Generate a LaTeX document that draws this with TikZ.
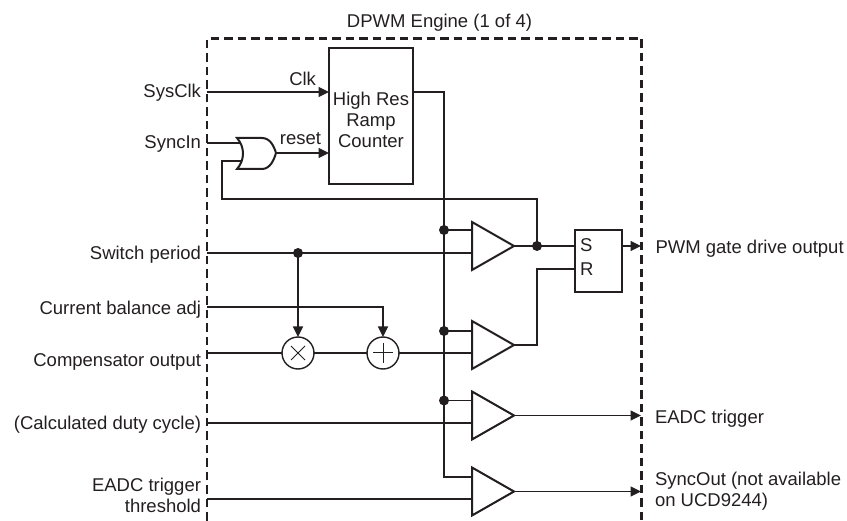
\documentclass[tikz,border=0pt]{standalone}
\usepackage{fontspec}
\setmainfont{Liberation Sans}
\usetikzlibrary{arrows.meta,shapes.geometric,shapes.misc}
\definecolor{ink}{HTML}{231F20}
\tikzset{
  wire/.style={draw=ink,line width=1.3pt},
  arrowwire/.style={wire,-{Triangle[length=10.5pt,width=10pt]}},
  blockbox/.style={draw=ink,line width=2.4pt,fill=white,inner sep=0pt,outer sep=0pt},
  comparator/.style={isosceles triangle,isosceles triangle stretches,shape border rotate=0,draw=ink,line width=2pt,fill=white,minimum width=48pt,minimum height=42pt,inner sep=0pt,outer sep=0pt,anchor=lower side},
  opcircle/.style={circle,draw=ink,line width=1.4pt,fill=white,minimum size=32pt,inner sep=0pt,outer sep=0pt},
  joint/.style={circle,fill=ink,minimum size=10pt,inner sep=0pt,outer sep=0pt},
  lbl/.style={text=ink,font=\fontsize{18.5}{21}\selectfont,inner sep=0pt,outer sep=0pt},
  leftlbl/.style={lbl,anchor=base east,align=right},
  rightlbl/.style={lbl,anchor=base west,align=left},
  boundary/.style={draw=ink,line width=2.4pt,dash pattern=on 8.5pt off 5pt}
}
\begin{document}
\begin{tikzpicture}[x=1pt,y=-1pt]
\useasboundingbox (0,0) rectangle (847,521);
\path[boundary] (207,521) -- (207,38.5) -- (641.5,38.5) -- (641.5,521);
% boundary terminals
\coordinate (pSysClk) at (207,92);
\coordinate (pSyncIn) at (207,143);
\coordinate (pSwitch) at (207,253);
\coordinate (pBal) at (207,307);
\coordinate (pComp) at (207,353);
\coordinate (pDuty) at (207,423);
\coordinate (pThr) at (207,499);
\coordinate (pPwm) at (641,246);
\coordinate (pEadc) at (641,415.5);
\coordinate (pSyncOut) at (641,491.5);
% blocks
\node[blockbox,minimum width=84pt,minimum height=136pt,align=center,anchor=north west] (ramp) at (329,48) {};
\node[lbl,align=center] (ramptext) at (371,120) {High Res\\Ramp\\Counter};
\node[blockbox,minimum width=47pt,minimum height=62pt,anchor=north west] (sr) at (575,230) {};
\node[lbl,anchor=base west] (srS) at (580,252) {S};
\node[lbl,anchor=base west] (srR) at (580,276) {R};
\node[comparator] (c1) at (472,246) {};
\node[comparator] (c2) at (472,345) {};
\node[comparator] (c3) at (472,415.5) {};
\node[comparator] (c4) at (472,491.5) {};
\node[opcircle] (mul) at (298,353) {};
\node[opcircle] (add) at (383,353) {};
\draw[ink,line width=1pt] (291,346) -- (305,360) (305,346) -- (291,360);
\draw[ink,line width=1pt] (373,353) -- (393,353) (383,343) -- (383,363);
% OR gate
\coordinate (orA) at (240,143);
\coordinate (orB) at (241,161);
\coordinate (orOut) at (276,153);
\draw[ink,line width=2pt,fill=white] (237,138) -- (262,138) .. controls (270,138) and (274,146) .. (276,153) .. controls (274,160) and (270,169) .. (262,169) -- (237,169) .. controls (245,160) and (245,147) .. (237,138) -- cycle;
% junction coordinates
\coordinate (busTop) at (444,92);
\coordinate (j1) at (444,230);
\coordinate (j2) at (444,331);
\coordinate (j3) at (444,400.5);
\coordinate (j4) at (444,477);
\coordinate (jSw) at (298,253);
\coordinate (jFb) at (537,246);
\coordinate (fbA) at (222,161);
\coordinate (fbB) at (222,199);
\coordinate (fbC) at (537,199);
\coordinate (rA) at (537,345);
\coordinate (rB) at (537,269);
\coordinate (balTurn) at (383,307);
% connectors
\draw[arrowwire] (pSysClk) -- (pSysClk -| ramp.west);
\draw[wire] (pSyncIn) -- (orA);
\draw[arrowwire] (orOut) -- (orOut -| ramp.west);
\draw[wire] (ramp.east |- busTop) -- (busTop) -- (j4) -- (c4.lower side |- j4);
\draw[wire] (j1) -- (c1.lower side |- j1);
\draw[wire] (j2) -- (c2.lower side |- j2);
\draw[wire] (j3) -- (c3.lower side |- j3);
\draw[wire] (orB) -- (fbA) -- (fbB) -- (fbC) -- (jFb);
\draw[wire] (pSwitch) -- (c1.lower side |- pSwitch);
\draw[arrowwire] (jSw) -- (mul.north);
\draw[arrowwire] (pBal) -- (balTurn) -- (add.north);
\draw[wire] (pComp) -- (mul.west);
\draw[wire] (mul.east) -- (add.west);
\draw[wire] (add.east) -- (c2.lower side |- add.east);
\draw[wire] (pDuty) -- (c3.lower side |- pDuty);
\draw[wire] (pThr) -- (c4.lower side |- pThr);
\draw[wire] (c1.apex) -- (sr.west |- c1.apex);
\draw[wire] (c2.apex) -- (rA) -- (rB) -- (sr.west |- rB);
\draw[arrowwire] (sr.east |- pPwm) -- (pPwm);
\draw[arrowwire] (c3.apex) -- (pEadc);
\draw[arrowwire] (c4.apex) -- (pSyncOut);
% joints
\node[joint] (d1) at (j1) {};
\node[joint] (d2) at (j2) {};
\node[joint] (d3) at (j3) {};
\node[joint] (d4) at (jSw) {};
\node[joint] (d5) at (jFb) {};
% labels
\node[lbl,anchor=base] (title) at (439.5,28) {DPWM Engine (1 of 4)};
\node[leftlbl] (tSys) at (201,98) {SysClk};
\node[leftlbl] (tSync) at (201,149) {SyncIn};
\node[leftlbl] (tSw) at (201,260) {Switch period};
\node[leftlbl] (tBal) at (201,315) {Current balance adj};
\node[leftlbl] (tComp) at (201,367) {Compensator output};
\node[leftlbl] (tDuty) at (201,430) {(Calculated duty cycle)};
\node[lbl,anchor=east,align=right] (tThr) at (201,495) {EADC trigger\\threshold};
\node[lbl,anchor=base east] (tClk) at (316,86) {Clk};
\node[lbl,anchor=base east] (tReset) at (321,145) {reset};
\node[rightlbl] (tPwm) at (655.5,254) {PWM gate drive output};
\node[rightlbl] (tEadc) at (655,424) {EADC trigger};
\node[lbl,anchor=west,align=left] (tOut) at (655,491) {SyncOut (not available\\on UCD9244)};
\end{tikzpicture}
\end{document}
